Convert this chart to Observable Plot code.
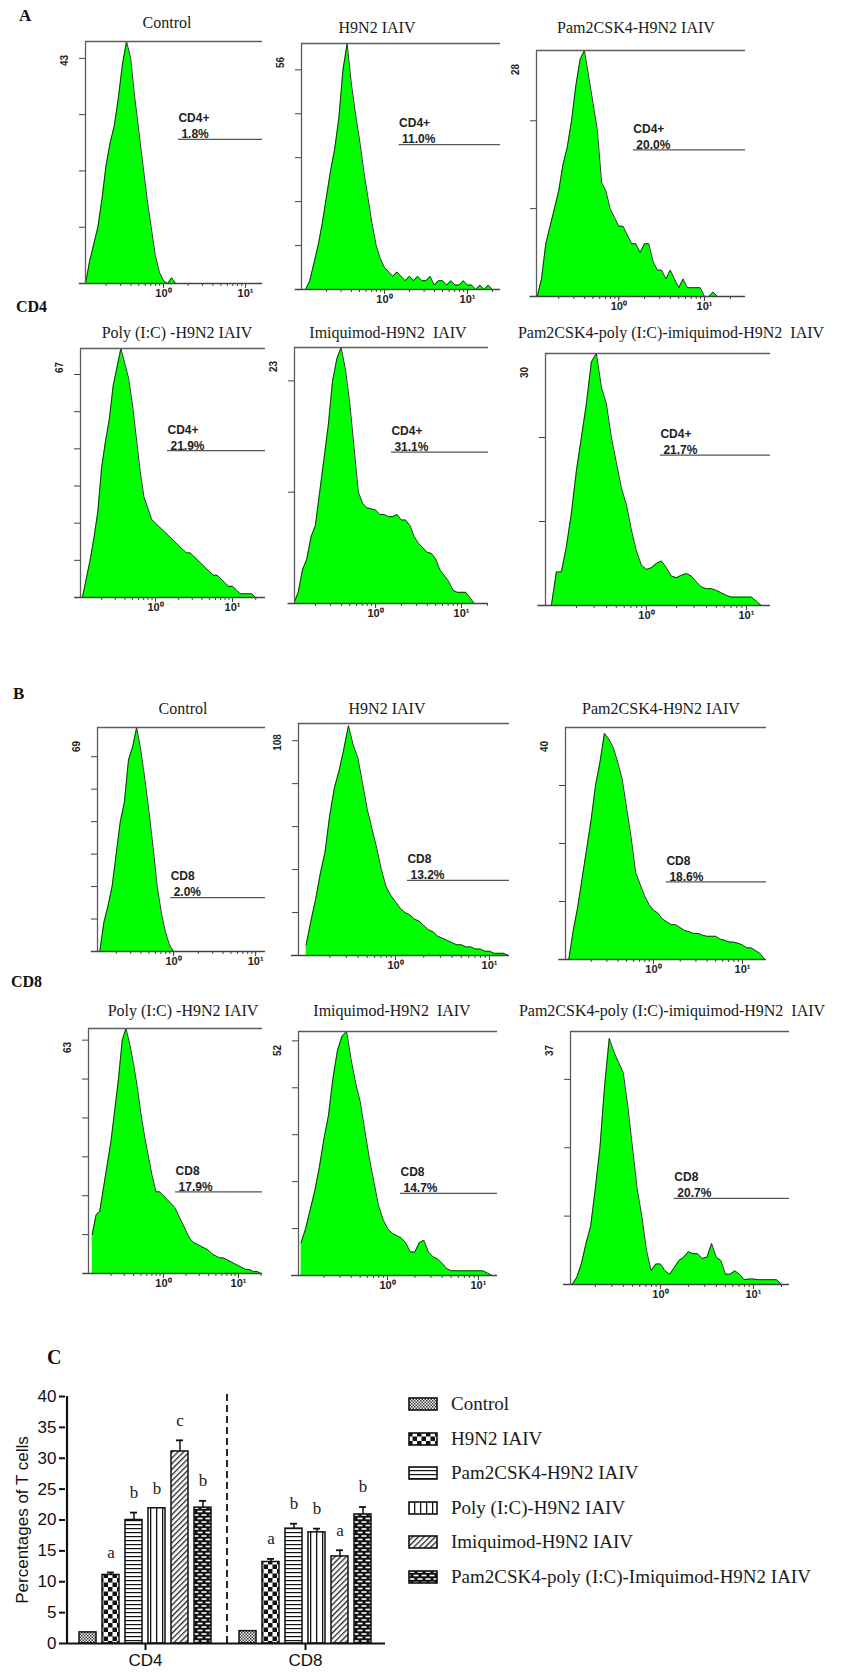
<!DOCTYPE html>
<html><head><meta charset="utf-8">
<script src="https://cdn.jsdelivr.net/npm/d3@7"></script>
<script src="https://cdn.jsdelivr.net/npm/@observablehq/plot@0.6"></script>
<style>
body{margin:0;background:#fff;}
#page{position:relative;width:842px;height:1680px;overflow:hidden;background:#fff;}
.ttl{position:absolute;transform:translate(-50%,-50%);font-family:"Liberation Serif","Times New Roman",serif;font-size:16px;white-space:pre;color:#1a1a1a;line-height:1;}
.sec{position:absolute;transform:translateY(-50%);font-family:"Liberation Serif","Times New Roman",serif;font-weight:bold;color:#111;line-height:1;}
.leg{position:absolute;display:flex;align-items:center;font-family:"Liberation Serif","Times New Roman",serif;font-size:19px;color:#1a1a1a;white-space:pre;transform:translateY(-50%);}
.leg svg{margin-right:13px;}
</style></head>
<body>
<svg width="0" height="0" style="position:absolute">
<defs>
<pattern id="pat0" patternUnits="userSpaceOnUse" width="3" height="3"><rect width="3" height="3" fill="#fff"/><rect width="1.5" height="1.5" fill="#333"/><rect x="1.5" y="1.5" width="1.5" height="1.5" fill="#333"/></pattern>
<pattern id="pat1" patternUnits="userSpaceOnUse" width="9" height="9"><rect width="9" height="9" fill="#fff"/><rect width="4.5" height="4.5" fill="#111"/><rect x="4.5" y="4.5" width="4.5" height="4.5" fill="#111"/></pattern>
<pattern id="pat2" patternUnits="userSpaceOnUse" width="4" height="4"><rect width="4" height="4" fill="#fff"/><rect width="4" height="1.2" fill="#111"/></pattern>
<pattern id="pat3" patternUnits="userSpaceOnUse" width="6" height="6"><rect width="6" height="6" fill="#fff"/><rect width="1.3" height="6" fill="#111"/></pattern>
<pattern id="pat4" patternUnits="userSpaceOnUse" width="4" height="4" patternTransform="rotate(45)"><rect width="4" height="4" fill="#fff"/><rect width="1.3" height="4" fill="#222"/></pattern>
<pattern id="pat5" patternUnits="userSpaceOnUse" width="8" height="7"><rect width="8" height="7" fill="#111"/><rect x="1.5" y="1.2" width="5" height="1.6" fill="#fff"/><rect x="-2.5" y="4.7" width="5" height="1.6" fill="#fff"/><rect x="5.5" y="4.7" width="5" height="1.6" fill="#fff"/></pattern>
</defs>
</svg>
<div id="page"></div>
<script>
// ---------- DATA ----------
// histogram bin centres, as log10 of fluorescence intensity
const logBins = [-0.95,-0.90,-0.85,-0.80,-0.75,-0.70,-0.65,-0.60,-0.55,-0.50,-0.45,-0.40,-0.35,-0.30,-0.25,-0.20,-0.15,-0.10,-0.05,0.00,0.05,0.10,0.15,0.20,0.25,0.30,0.35,0.40,0.45,0.50,0.55,0.60,0.65,0.70,0.75,0.80,0.85,0.90,0.95,1.00,1.05,1.10,1.15,1.20,1.25,1.30];

const panelTitles = ["Control", "H9N2 IAIV", "Pam2CSK4-H9N2 IAIV", "Poly (I:C) -H9N2 IAIV", "Imiquimod-H9N2  IAIV", "Pam2CSK4-poly (I:C)-imiquimod-H9N2  IAIV"];

// CD4 histograms (cell counts per bin)
const cd4Control = [0,4,7,10,15,21,25,28,33,39,43,40,33,27,21,15,10,5,2,0.5,0,1,0,0,0,0,0,0,0,0,0,0,0,0,0,0,0,0,0,0,0,0,0,0,0,0];
const cd4H9N2    = [0,2,6,10,15,21,27,32,39,50,56,47,40,34,27,21,15,10,7,5,4,3,4,3,2,3,2,3,2,2,3,1,2,2,1,2,1,1,2,1,1,0,1,0,1,0];
const cd4Pam     = [0,2,6,8,10,12,15,17,20,24,27,28,25,22,19,13,12,10,9,8,8,7,6,6,5,6,6,4,3,3,2,3,2,1,2,1,1,1,1,0,0,0.5,0,0,0,0];
const cd4Poly    = [0,5,10,16,23,35,42,48,57,62,67,63,59,52,43,34,27,24,21,20,19,18,17,16,15,14,13,12,12,11,10,9,8,7,6,6,5,4,3,3,2,1,1,1,1,0];
const cd4Imiq    = [0,1,3,4,6,7,10,13,16,20,22,23,21,18,14,10,9,8.6,8.5,8.4,8,8,7.8,7.8,8,7.5,7.5,7,6,5.4,5,4.6,4.5,4,3,2.5,2,1.2,1,1,1,0.5,0,0,0,0];
const cd4Combo   = [0,4,4,7,11,16,20,24,29,30,26,24,20,17,14,12,9,6.5,4.8,4.3,4.5,5,5.3,4.5,3.5,3.3,3.6,3.8,3.5,2.8,2.2,2,2,1.8,1.5,1.2,1,1,1,1,1,0.5,0,0,0,0];
// CD8 histograms
const cd8Control = [0,0,9,14,20,30,40,46,59,63,69,62,53,43,32,20,12,6,2,0,0,0,0,0,0,0,0,0,0,0,0,0,0,0,0,0,0,0,0,0,0,0,0,0,0,0];
const cd8H9N2    = [5,16,26,38,48,65,78,86,96,107,98,92,80,68,59,50,40,32,28,25,22,20,19,17,16,14,12,11,9,8,7,6,5,5,4,4,3,3,2,2,1,1,1,0,0,0];
const cd8Pam     = [0,5,9,14,19,24,30,34,39,38,36.5,34,31,26,21,15,13,11,9.5,8.5,8,7,6.5,6,6,5.5,5,4.8,4.5,4.5,4.2,4,4,4,3.5,3.3,3,3,2.8,2.5,2,2,1.5,1,0,0];
const cd8Poly    = [10,15,16,22,28,34,42,50,60,63,59,54,48,41,35,30,25,21,21,20,19,18,17,15,13,11,9,8,7.5,7,6.5,6,5,4.5,4,4,3.5,3,2.5,2,1.5,1,1,0.5,0.5,0];
const cd8Imiq    = [7,10,14,18,23,29,34,42,48,51,52,46,41,37,31,25,20,15,12,10,9,8.5,8,7,5,5,7,7.5,5,4,3.5,2.6,1.5,1,1,1,1,1,1,1,1,0.5,0,0,0,0];
const cd8Combo   = [0,1,3,6,8.5,14,20,29,36,34,32.5,31,26,20,14,10,5,2,3,3,2,1.5,2.5,3.5,4,4.8,4.5,4.5,3.8,4,6,4,3.5,1.5,1.5,2,1.5,0.7,0.8,0.8,0.7,0.7,0.7,0.7,0.7,0];

const cd4YMax = [43, 56, 28, 67, 23, 30];
const cd8YMax = [69, 108, 40, 63, 52, 37];
const cd4Pct = ["1.8%", "11.0%", "20.0%", "21.9%", "31.1%", "21.7%"];
const cd8Pct = ["2.0%", "13.2%", "18.6%", "17.9%", "14.7%", "20.7%"];
const cd4GateStart = [1.52, 1.5, 1.48, 1.43, 1.53, 1.38];
const cd4GateLevel = [25.6, 33, 16.7, 39.5, 13.6, 17.9];
const cd8GateStart = [0.92, 1.34, 1.4, 1.45, 1.39, 1.41];
const cd8GateLevel = [16.6, 35, 13.4, 21, 17.5, 12.6];
const xTickValues = [0.2,0.3,0.4,0.5,0.6,0.7,0.8,0.9,1,2,3,4,5,6,7,8,9,10,20];
const xTickLabels = {1: "10\u2070", 10: "10\u00B9"};

// bar chart (panel C)
const groups = ["Control", "H9N2 IAIV", "Pam2CSK4-H9N2 IAIV", "Poly (I:C)-H9N2 IAIV", "Imiquimod-H9N2 IAIV", "Pam2CSK4-poly (I:C)-Imiquimod-H9N2 IAIV"];
const markers = ["CD4", "CD8"];
const cd4Means  = [1.8, 11.1, 20.0, 21.9, 31.1, 22.0];
const cd4Errors = [0, 0.4, 1.2, 0, 1.8, 1.1];
const cd8Means  = [2.0, 13.2, 18.6, 18.0, 14.1, 20.9];
const cd8Errors = [0, 0.5, 0.8, 0.6, 1.0, 1.2];
const cd4Letters = ["", "a", "b", "b", "c", "b"];
const cd8Letters = ["", "a", "b", "b", "a", "b"];
const barYTicks = [0, 5, 10, 15, 20, 25, 30, 35, 40];
const patternIds = ["pat0", "pat1", "pat2", "pat3", "pat4", "pat5"];

// ---------- LAYOUT (pixels) ----------
const cd4Layout = [
  {L:85, R:262, T:41, B:283, lo:0.112, hi:16.1, tx:167, ty:23},
  {L:301, R:500, T:43, B:289, lo:0.1, hi:25, tx:377, ty:28},
  {L:536, R:745, T:50, B:296, lo:0.11, hi:30, tx:636, ty:28},
  {L:80, R:265, T:348, B:597, lo:0.106, hi:26.8, tx:177, ty:333},
  {L:294, R:488, T:347, B:603, lo:0.114, hi:20.6, tx:388, ty:333},
  {L:545, R:770, T:353, B:605, lo:0.098, hi:17.4, tx:671, ty:333}
];
const cd8Layout = [
  {L:97, R:265, T:727, B:951, lo:0.118, hi:13.2, tx:183, ty:709},
  {L:298, R:509, T:723, B:955, lo:0.093, hi:16.3, tx:387, ty:709},
  {L:565, R:766, T:727, B:959, lo:0.103, hi:18.6, tx:661, ty:709},
  {L:88, R:262, T:1028, B:1273, lo:0.1, hi:20.9, tx:183, ty:1011},
  {L:298, R:497, T:1031, B:1275, lo:0.105, hi:16.2, tx:392, ty:1011},
  {L:570, R:789, T:1031, B:1284, lo:0.108, hi:24.4, tx:672, ty:1011}
];

const page = document.getElementById("page");
function place(el, left, top) {
  el.style.position = "absolute";
  el.style.left = left + "px";
  el.style.top = top + "px";
  page.appendChild(el);
}
function addDiv(text, cls, left, top, extra) {
  const d = document.createElement("div");
  d.className = cls;
  d.textContent = text;
  d.style.left = left + "px";
  d.style.top = top + "px";
  if (extra) Object.assign(d.style, extra);
  page.appendChild(d);
  return d;
}

const sans = "'Liberation Sans', Arial, Helvetica, sans-serif";

function histogram(counts, ymax, marker, pct, gx, gy, lay) {
  const mL = 36, mR = 6, mT = 6, mB = 26;
  const step = ymax > 100 ? 20 : 10;
  const yTicks = d3.range(step, ymax, step);
  const pts = logBins.map((e, i) => ({x: Math.pow(10, e), c: counts[i]}));
  const xt = xTickValues.filter(v => v >= lay.lo && v <= lay.hi);
  const plot = Plot.plot({
    width: lay.R - lay.L + mL + mR,
    height: lay.B - lay.T + mT + mB,
    marginLeft: mL, marginRight: mR, marginTop: mT, marginBottom: mB,
    style: {fontFamily: sans, fontSize: "11px", color: "#222", background: "transparent", overflow: "visible"},
    x: {type: "log", domain: [lay.lo, lay.hi]},
    y: {domain: [0, ymax]},
    marks: [
      Plot.areaY(pts, {x: "x", y: "c", curve: "linear", fill: "#00ff00", clip: true}),
      Plot.lineY(pts, {x: "x", y: "c", curve: "linear", stroke: "#1c1c1c", strokeWidth: 0.9, clip: true}),
      Plot.ruleX([lay.lo], {stroke: "#5c5c5c", strokeWidth: 1.3}),
      Plot.ruleY([ymax], {stroke: "#5c5c5c", strokeWidth: 1.3}),
      Plot.ruleY([0], {x1: lay.lo * 0.84, x2: lay.hi, stroke: "#444", strokeWidth: 1.3}),
      Plot.axisY({ticks: yTicks, tickSize: 6, tickFormat: () => "", label: null, stroke: "#444"}),
      Plot.axisX({ticks: xt, tickSize: 3, tickPadding: 3, tickFormat: d => xTickLabels[d] || "", label: null, fontWeight: "bold", stroke: "#444"}),
      Plot.axisX({ticks: xt.filter(v => xTickLabels[v]), tickSize: 5, tickFormat: () => "", label: null, stroke: "#444"}),
      Plot.text([ymax], {x: lay.lo, y: d => d, text: d => String(d), rotate: -90, dx: -21, dy: 19, fontWeight: "bold", fontSize: 10, fill: "#222"}),
      Plot.ruleY([gy], {x1: gx, x2: lay.hi, stroke: "#555", strokeWidth: 1.3}),
      Plot.text([marker], {x: gx, y: gy, text: d => d, dy: -21, textAnchor: "start", fontWeight: "bold", fontSize: 12, fill: "#222"}),
      Plot.text([pct], {x: gx, y: gy, text: d => d, dx: 3, dy: -5, textAnchor: "start", fontWeight: "bold", fontSize: 12, fill: "#222"})
    ]
  });
  place(plot, lay.L - mL, lay.T - mT);
}

const cd4Series = [cd4Control, cd4H9N2, cd4Pam, cd4Poly, cd4Imiq, cd4Combo];
const cd8Series = [cd8Control, cd8H9N2, cd8Pam, cd8Poly, cd8Imiq, cd8Combo];

cd4Series.forEach((s, i) => {
  histogram(s, cd4YMax[i], "CD4+", cd4Pct[i], cd4GateStart[i], cd4GateLevel[i], cd4Layout[i]);
  addDiv(panelTitles[i], "ttl", cd4Layout[i].tx, cd4Layout[i].ty);
});
cd8Series.forEach((s, i) => {
  histogram(s, cd8YMax[i], "CD8", cd8Pct[i], cd8GateStart[i], cd8GateLevel[i], cd8Layout[i]);
  addDiv(panelTitles[i], "ttl", cd8Layout[i].tx, cd8Layout[i].ty);
});

// section labels
addDiv("A", "sec", 19, 15, {fontSize: "17px"});
addDiv("CD4", "sec", 16, 307, {fontSize: "16px"});
addDiv("B", "sec", 13, 693, {fontSize: "17px"});
addDiv("CD8", "sec", 11, 982, {fontSize: "16px"});
addDiv("C", "sec", 47, 1357, {fontSize: "20px"});

// ---------- BAR CHART ----------
const barRows = [];
markers.forEach((m, mi) => {
  const means = mi === 0 ? cd4Means : cd8Means;
  const errs = mi === 0 ? cd4Errors : cd8Errors;
  const lets = mi === 0 ? cd4Letters : cd8Letters;
  groups.forEach((g, gi) => barRows.push({marker: m, group: g, value: means[gi], err: errs[gi], letter: lets[gi]}));
});

const bar = Plot.plot({
  width: 400, height: 300,
  marginLeft: 65, marginRight: 15, marginTop: 16, marginBottom: 37,
  style: {fontFamily: sans, fontSize: "17px", color: "#111", background: "transparent", overflow: "visible"},
  fx: {domain: markers, padding: 0},
  x: {domain: groups, paddingInner: 0.24, paddingOuter: 0.5, axis: null},
  y: {domain: [0, 40]},
  color: {domain: groups, range: patternIds.map(id => `url(#${id})`)},
  marks: [
    Plot.barY(barRows, {fx: "marker", x: "group", y: "value", fill: "group", stroke: "#111", strokeWidth: 1.5}),
    Plot.ruleX(barRows.filter(d => d.err > 0), {fx: "marker", x: "group", y1: "value", y2: d => d.value + d.err, stroke: "#111", strokeWidth: 1.5}),
    Plot.tickY(barRows.filter(d => d.err > 0), {fx: "marker", x: "group", y: d => d.value + d.err, stroke: "#111", strokeWidth: 1.8, insetLeft: 5, insetRight: 5}),
    Plot.text(barRows.filter(d => d.letter), {fx: "marker", x: "group", y: d => d.value + d.err, text: "letter", dy: -20, fontFamily: "'Liberation Serif', 'Times New Roman', serif", fontSize: 17, fill: "#222"}),
    Plot.ruleY([0], {stroke: "#111", strokeWidth: 2.2}),
    Plot.ruleX([markers[0]], {fx: d => d, x: () => groups[0], dx: -21, y1: 0, y2: 40, stroke: "#111", strokeWidth: 2.2}),
    Plot.ruleX([markers[1]], {fx: d => d, x: () => groups[0], dx: -21, y1: 0, y2: 40.6, stroke: "#111", strokeWidth: 1.8, strokeDasharray: "7,4"}),
    Plot.axisY({ticks: barYTicks, tickSize: 6, tickPadding: 3, stroke: "#111", strokeWidth: 2, label: "Percentages of T cells", labelAnchor: "center", labelOffset: 50, labelArrow: "none"}),
    Plot.axisFx({anchor: "bottom", tickSize: 7, tickPadding: 3, stroke: "#111", strokeWidth: 2, label: null})
  ]
});
place(bar, 0, 1380);

// legend
groups.forEach((g, i) => {
  const row = document.createElement("div");
  row.className = "leg";
  row.style.left = "408px";
  row.style.top = (1404 + i * 34.5) + "px";
  row.innerHTML = `<svg width="30" height="14"><rect x="1" y="1" width="28" height="12" fill="url(#${patternIds[i]})" stroke="#111" stroke-width="1.6"/></svg>`;
  const span = document.createElement("span");
  span.textContent = g;
  row.appendChild(span);
  page.appendChild(row);
});
</script>
</body></html>
